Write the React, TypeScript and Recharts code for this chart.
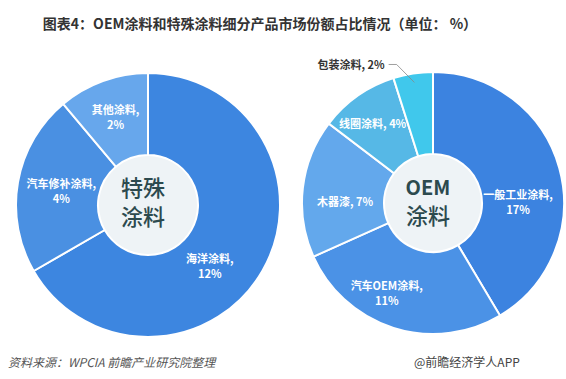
import { PieChart, Pie, Cell } from 'recharts';

// 特殊涂料 (left donut)
const specialNames = ['海洋涂料', '汽车修补涂料', '其他涂料'];
const specialValues = [12, 4, 2];

// OEM涂料 (right donut)
const oemNames = ['一般工业涂料', '汽车OEM涂料', '木器漆', '线圈涂料', '包装涂料'];
const oemValues = [17, 11, 7, 4, 2];

const TITLE = '图表4：OEM涂料和特殊涂料细分产品市场份额占比情况（单位： %）';
const SOURCE = '资料来源：WPCIA 前瞻产业研究院整理';
const BRAND = '@前瞻经济学人APP';

const SPECIAL_COLORS = ['#3d86e0', '#4a90e2', '#67a7ec'];
const OEM_COLORS = ['#3c83e0', '#4b92e6', '#63a8ec', '#56b8e6', '#40c8ec'];

const FONT = '"Noto Sans CJK SC", "Noto Sans", sans-serif';
const RAD = Math.PI / 180;

const specialData = specialNames.map((name, i) => ({ name, value: specialValues[i] }));
const oemData = oemNames.map((name, i) => ({ name, value: oemValues[i] }));

// label placement tweaks (radius, angle shift in degrees, single line?, outside?)
const LABEL_STYLE: Record<string, { r: number; shift?: number; inline?: boolean; outside?: boolean }> = {
  海洋涂料: { r: 86, shift: -14 },
  汽车修补涂料: { r: 88 },
  其他涂料: { r: 95 },
  一般工业涂料: { r: 85, shift: -14 },
  汽车OEM涂料: { r: 100, shift: -10 },
  木器漆: { r: 88, shift: 5, inline: true },
  线圈涂料: { r: 100, shift: 2, inline: true },
  包装涂料: { r: 141, shift: 2, outside: true },
};

const renderLabel = (props: any) => {
  const { cx, cy, midAngle, name, value } = props;
  const st = LABEL_STYLE[name] || { r: 88 };
  const ang = (midAngle + (st.shift || 0)) * RAD;
  const x = cx + st.r * Math.cos(-ang);
  const y = cy + st.r * Math.sin(-ang);
  if (st.outside) {
    const ex = cx + 122 * Math.cos(-midAngle * RAD);
    const ey = cy + 122 * Math.sin(-midAngle * RAD);
    return (
      <g>
        <polyline
          points={`${ex},${ey} ${x - 10},${y} ${x - 18},${y}`}
          fill="none"
          stroke="#888"
          strokeWidth={0.8}
        />
        <text x={x - 22} y={y} textAnchor="end" dominantBaseline="central" fill="#333" fontSize={11} fontWeight={700} fontFamily={FONT}>
          {`${name}, ${value}%`}
        </text>
      </g>
    );
  }
  if (st.inline) {
    return (
      <text x={x} y={y} textAnchor="middle" dominantBaseline="central" fill="#fff" fontSize={11} fontWeight={700} fontFamily={FONT}>
        {`${name}, ${value}%`}
      </text>
    );
  }
  return (
    <text x={x} y={y} textAnchor="middle" fill="#fff" fontSize={11} fontWeight={700} fontFamily={FONT}>
      <tspan x={x} dy={-2}>{`${name},`}</tspan>
      <tspan x={x} dy={15}>{`${value}%`}</tspan>
    </text>
  );
};

const App = () => {
  return (
    <div
      style={{
        position: 'absolute',
        left: 0,
        top: 0,
        width: 566,
        height: 379,
        background: '#fff',
        fontFamily: FONT,
        overflow: 'hidden',
      }}
    >
      <div
        style={{
          position: 'absolute',
          left: 0,
          width: 566,
          top: 13,
          textAlign: 'center',
          fontSize: 14,
          fontWeight: 700,
          color: '#333',
          paddingRight: 46,
          boxSizing: 'border-box',
        }}
      >
        {TITLE}
      </div>
      <div style={{ position: 'absolute', left: 0, top: 0 }}>
        <PieChart width={566} height={379}>
          <Pie
            data={specialData}
            dataKey="value"
            nameKey="name"
            cx={143}
            cy={200}
            innerRadius={50}
            outerRadius={132}
            startAngle={90}
            endAngle={-270}
            stroke="#fff"
            strokeWidth={2}
            label={renderLabel}
            labelLine={false}
            isAnimationActive={false}
          >
            {specialData.map((d, i) => (
              <Cell key={d.name} fill={SPECIAL_COLORS[i]} />
            ))}
          </Pie>
          <Pie
            data={[{ name: 'center', value: 1 }]}
            dataKey="value"
            cx={143}
            cy={200}
            innerRadius={0}
            outerRadius={49}
            fill="#eef3f6"
            stroke="none"
            isAnimationActive={false}
          />
          <Pie
            data={oemData}
            dataKey="value"
            nameKey="name"
            cx={428}
            cy={198}
            innerRadius={49}
            outerRadius={131}
            startAngle={90}
            endAngle={-270}
            stroke="#fff"
            strokeWidth={2}
            label={renderLabel}
            labelLine={false}
            isAnimationActive={false}
          >
            {oemData.map((d, i) => (
              <Cell key={d.name} fill={OEM_COLORS[i]} />
            ))}
          </Pie>
          <Pie
            data={[{ name: 'center', value: 1 }]}
            dataKey="value"
            cx={428}
            cy={198}
            innerRadius={0}
            outerRadius={48}
            fill="#eef3f6"
            stroke="none"
            isAnimationActive={false}
          />
        </PieChart>
      </div>
      <svg
        width={566}
        height={379}
        style={{ position: 'absolute', left: 0, top: 0, pointerEvents: 'none' }}
      >
        <text x={143} y={186} textAnchor="middle" dominantBaseline="central" fill="#2c4a4e" fontSize={22} fontWeight={500} fontFamily={FONT}>
          特殊
        </text>
        <text x={143} y={215} textAnchor="middle" dominantBaseline="central" fill="#2c4a4e" fontSize={22} fontWeight={500} fontFamily={FONT}>
          涂料
        </text>
        <text x={428} y={186} textAnchor="middle" dominantBaseline="central" fill="#2c4a4e" fontSize={20} fontWeight={700} fontFamily={FONT}>
          OEM
        </text>
        <text x={428} y={214} textAnchor="middle" dominantBaseline="central" fill="#2c4a4e" fontSize={22} fontWeight={500} fontFamily={FONT}>
          涂料
        </text>
      </svg>
      <div
        style={{
          position: 'absolute',
          left: 8,
          top: 353,
          fontSize: 12,
          fontStyle: 'italic',
          color: '#555',
        }}
      >
        {SOURCE}
      </div>
      <div
        style={{
          position: 'absolute',
          left: 414,
          top: 353,
          fontSize: 12,
          color: '#444',
        }}
      >
        {BRAND}
      </div>
    </div>
  );
};

export default App;
